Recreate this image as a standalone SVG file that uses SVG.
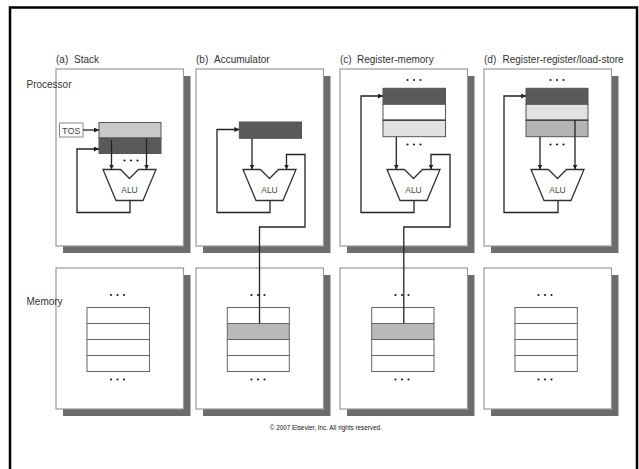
<svg xmlns="http://www.w3.org/2000/svg" width="639" height="469" viewBox="0 0 639 469">
<style>
  .lbl{font-family:"Liberation Sans",Arial,sans-serif;font-size:10px;fill:#333}
  .alu-t{font-family:"Liberation Sans",Arial,sans-serif;font-size:8.5px;fill:#444;text-anchor:middle}
  .tos-t{font-family:"Liberation Sans",Arial,sans-serif;font-size:9px;fill:#444;text-anchor:middle}
  .copy{font-family:"Liberation Sans",Arial,sans-serif;font-size:6.5px;fill:#111;text-anchor:middle}
  .shadow{fill:#6c6c6c}
  .panel{fill:#fff;stroke:#9a9a9a;stroke-width:1.2}
  .alu{fill:#fff;stroke:#333;stroke-width:1.3;stroke-linejoin:miter}
  .reg{stroke:#555;stroke-width:1}
  .cell{fill:#fff;stroke:#666;stroke-width:1}
  .cell-hi{fill:#b9b9b9;stroke:#666;stroke-width:1}
  .wire{fill:none;stroke:#222;stroke-width:1.3}
  .arr{marker-end:url(#ah)}
</style>
<defs>
  <marker id="ah" viewBox="0 0 6 6" refX="6" refY="3" markerWidth="5" markerHeight="5" markerUnits="userSpaceOnUse" orient="auto">
    <path d="M0,0 L6,3 L0,6 z" fill="#222"/>
  </marker>
  <g id="dots" fill="#222">
    <circle cx="-6.5" cy="0" r="1.1"/>
    <circle cx="0" cy="0" r="1.1"/>
    <circle cx="6.5" cy="0" r="1.1"/>
  </g>
  <polygon id="alushape" points="47,169.5 64.5,169.5 73.5,178.5 82.5,169.5 100,169.5 87,200.5 60,200.5"/>
</defs>

<rect x="10" y="7.5" width="627" height="470" fill="#fff" stroke="#000" stroke-width="2.5"/>

<!-- Processor (a) Stack -->
<g id="proc-a" transform="translate(56,0)">
  <text class="lbl" x="0" y="62.5">(a)</text>
  <text class="lbl" x="18" y="62.5">Stack</text>
  <rect class="shadow" x="7" y="76" width="127.5" height="177"/>
  <rect class="panel" x="0" y="69" width="127.5" height="177"/>
  <rect x="3.5" y="123" width="23.5" height="14" fill="#fff" stroke="#888" stroke-width="1"/>
  <text class="tos-t" x="15.25" y="133.5">TOS</text>
  <rect class="reg" x="43" y="122.5" width="62" height="15.5" fill="#c9c9c9"/>
  <rect class="reg" x="43" y="138" width="62" height="15.5" fill="#5a5a5a"/>
  <use href="#dots" x="75" y="160.5"/>
  <use href="#alushape" class="alu"/>
  <text class="alu-t" x="73.5" y="193">ALU</text>
</g>

<!-- Processor (b) Accumulator -->
<g id="proc-b" transform="translate(196,0)">
  <text class="lbl" x="0" y="62.5">(b)</text>
  <text class="lbl" x="18" y="62.5">Accumulator</text>
  <rect class="shadow" x="7" y="76" width="127.5" height="177"/>
  <rect class="panel" x="0" y="69" width="127.5" height="177"/>
  <rect class="reg" x="43.3" y="122" width="62.2" height="16.3" fill="#5a5a5a"/>
  <use href="#alushape" class="alu"/>
  <text class="alu-t" x="73.5" y="193">ALU</text>
</g>

<!-- Processor (c) Register-memory -->
<g id="proc-c" transform="translate(340,0)">
  <text class="lbl" x="0" y="62.5">(c)</text>
  <text class="lbl" x="17" y="62.5">Register-memory</text>
  <rect class="shadow" x="7" y="76" width="127.5" height="177"/>
  <rect class="panel" x="0" y="69" width="127.5" height="177"/>
  <use href="#dots" x="74" y="80"/>
  <rect class="reg" x="43" y="88.3" width="62.5" height="16" fill="#5a5a5a"/>
  <rect class="reg" x="43" y="104.3" width="62.5" height="16" fill="#fff"/>
  <rect class="reg" x="43" y="120.3" width="62.5" height="16.4" fill="#e2e2e2"/>
  <line x1="43" y1="120.3" x2="105.5" y2="120.3" stroke="#444" stroke-width="1.6"/>
  <use href="#dots" x="74" y="144.5"/>
  <use href="#alushape" class="alu"/>
  <text class="alu-t" x="73.5" y="193">ALU</text>
</g>

<!-- Processor (d) Register-register/load-store -->
<g id="proc-d" transform="translate(484,0)">
  <text class="lbl" x="0" y="62.5">(d)</text>
  <text class="lbl" x="18.5" y="62.5">Register-register/load-store</text>
  <rect class="shadow" x="7" y="76" width="127.5" height="177"/>
  <rect class="panel" x="0" y="69" width="127.5" height="177"/>
  <use href="#dots" x="73" y="80"/>
  <rect class="reg" x="42" y="88.3" width="62" height="16" fill="#5a5a5a"/>
  <rect class="reg" x="42" y="104.3" width="62" height="16" fill="#e2e2e2"/>
  <rect class="reg" x="42" y="120.3" width="62" height="16.4" fill="#b5b5b5"/>
  <line x1="42" y1="120.3" x2="104" y2="120.3" stroke="#444" stroke-width="1.6"/>
  <use href="#dots" x="73" y="144.5"/>
  <use href="#alushape" class="alu"/>
  <text class="alu-t" x="73.5" y="193">ALU</text>
</g>

<!-- Memory panels -->
<g id="mem-a" transform="translate(56,0)">
  <rect class="shadow" x="7" y="275" width="127.5" height="141"/>
  <rect class="panel" x="0" y="268" width="127.5" height="141"/>
  <use href="#dots" x="61.5" y="295"/>
  <rect class="cell" x="31" y="307.5" width="62.5" height="16"/>
  <rect class="cell" x="31" y="323.5" width="62.5" height="16"/>
  <rect class="cell" x="31" y="339.5" width="62.5" height="16"/>
  <rect class="cell" x="31" y="355.5" width="62.5" height="16"/>
  <use href="#dots" x="61.5" y="379.5"/>
</g>
<g id="mem-b" transform="translate(196,0)">
  <rect class="shadow" x="7" y="275" width="127.5" height="141"/>
  <rect class="panel" x="0" y="268" width="127.5" height="141"/>
  <use href="#dots" x="62" y="295"/>
  <rect class="cell" x="31.3" y="307.5" width="62" height="16"/>
  <rect class="cell-hi" x="31.3" y="323.5" width="62" height="16"/>
  <rect class="cell" x="31.3" y="339.5" width="62" height="16"/>
  <rect class="cell" x="31.3" y="355.5" width="62" height="16"/>
  <use href="#dots" x="62" y="379.5"/>
</g>
<g id="mem-c" transform="translate(340,0)">
  <rect class="shadow" x="7" y="275" width="127.5" height="141"/>
  <rect class="panel" x="0" y="268" width="127.5" height="141"/>
  <use href="#dots" x="62" y="295"/>
  <rect class="cell" x="31.7" y="307.5" width="62.3" height="16"/>
  <rect class="cell-hi" x="31.7" y="323.5" width="62.3" height="16"/>
  <rect class="cell" x="31.7" y="339.5" width="62.3" height="16"/>
  <rect class="cell" x="31.7" y="355.5" width="62.3" height="16"/>
  <use href="#dots" x="62" y="379.5"/>
</g>
<g id="mem-d" transform="translate(484,0)">
  <rect class="shadow" x="7" y="275" width="127.5" height="141"/>
  <rect class="panel" x="0" y="268" width="127.5" height="141"/>
  <use href="#dots" x="61" y="295"/>
  <rect class="cell" x="31" y="307.5" width="62.3" height="16"/>
  <rect class="cell" x="31" y="323.5" width="62.3" height="16"/>
  <rect class="cell" x="31" y="339.5" width="62.3" height="16"/>
  <rect class="cell" x="31" y="355.5" width="62.3" height="16"/>
  <use href="#dots" x="61" y="379.5"/>
</g>

<!-- Connectors -->
<g id="connectors">
  <g transform="translate(56,0)">
    <path class="wire arr" d="M27,130 H43"/>
    <path class="wire arr" d="M74,200.5 V212.5 H21 V149 H43"/>
    <path class="wire arr" d="M55.5,140 V169.5"/>
    <path class="wire arr" d="M90.5,138.5 V169.5"/>
  </g>
  <g transform="translate(196,0)">
    <path class="wire arr" d="M74,200.5 V212.5 H21 V129.5 H43.3"/>
    <path class="wire arr" d="M56,138.3 V169.5"/>
    <path class="wire arr" d="M63.5,323.5 V227 H109 V154.5 H90.5 V169.5"/>
  </g>
  <g transform="translate(340,0)">
    <path class="wire arr" d="M74,200.5 V212.5 H21 V96 H43"/>
    <path class="wire arr" d="M56.3,136.7 V169.5"/>
    <path class="wire arr" d="M63.8,323.5 V227 H110 V154.5 H91 V169.5"/>
  </g>
  <g transform="translate(484,0)">
    <path class="wire arr" d="M74,200.5 V212.5 H20 V96 H42"/>
    <path class="wire arr" d="M56,136.7 V169.5"/>
    <path class="wire arr" d="M91,120.3 V169.5"/>
  </g>
</g>

<text class="lbl" x="26.5" y="88">Processor</text>
<text class="lbl" x="26.5" y="305">Memory</text>
<text class="copy" x="325.8" y="430" textLength="112" lengthAdjust="spacingAndGlyphs">© 2007 Elsevier, Inc. All rights reserved.</text>
</svg>
